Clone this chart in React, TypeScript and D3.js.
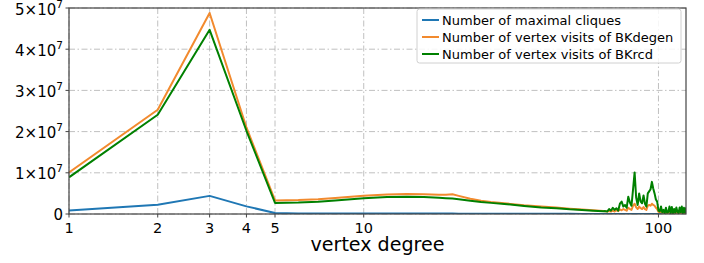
import React from "react";
import * as d3 from "d3";

// vertex degree (x) and the three series, values in units of 1e7
const degrees = [
  1, 2, 3, 4, 5, 6, 7, 8, 10, 12, 14, 16, 18, 19, 20, 21, 23, 25, 27, 30, 35, 40, 45, 50, 55, 60, 65,
  66, 67, 68, 69, 70, 71, 72, 73, 74, 75, 76, 77, 78, 79, 80, 81, 82, 83, 84, 85, 86, 87, 88, 89, 90,
  91, 92, 93, 94, 95, 96, 97, 98, 99, 100, 101, 102, 103, 104, 105, 106, 107, 108, 109, 110, 111, 112,
  113, 114, 115, 116, 117, 118, 119, 120, 121, 122, 123, 124,
];

const maximalCliques = [
  0.087, 0.225, 0.44, 0.185, 0.025, 0.015, 0.014, 0.013, 0.012, 0.011, 0.011, 0.01, 0.01, 0.01, 0.01, 0.009, 0.008, 0.008, 0.007, 0.006, 0.005, 0.005, 0.004, 0.004, 0.003, 0.003, 0.002,
  0.002, 0.002, 0.002, 0.002, 0.002, 0.002, 0.002, 0.002, 0.002, 0.002, 0.002, 0.002, 0.002, 0.002, 0.002, 0.002, 0.002, 0.002, 0.002, 0.002, 0.002, 0.002, 0.002, 0.002, 0.002,
  0.001, 0.001, 0.001, 0.001, 0.001, 0.001, 0.001, 0.001, 0.001, 0.001, 0.001, 0.001, 0.001, 0.001, 0.001, 0.001, 0.001, 0.001, 0.001, 0.001, 0.001, 0.001,
  0.001, 0.001, 0.001, 0.001, 0.001, 0.001, 0.001, 0.001, 0.001, 0.001, 0.001, 0.001,
];

const visitsBKdegen = [
  1.01, 2.53, 4.88, 2.1, 0.33, 0.34, 0.36, 0.39, 0.44, 0.475, 0.485, 0.48, 0.465, 0.47, 0.48, 0.44, 0.37, 0.32, 0.29, 0.26, 0.21, 0.18, 0.155, 0.13, 0.11, 0.09, 0.07,
  0.065, 0.06, 0.07, 0.06, 0.08, 0.06, 0.09, 0.07, 0.11, 0.09, 0.12, 0.1, 0.08, 0.15, 0.12, 0.1, 0.2, 0.25, 0.16, 0.12, 0.18, 0.14, 0.12, 0.17, 0.12,
  0.1, 0.2, 0.22, 0.2, 0.25, 0.22, 0.2, 0.15, 0.12, 0.05, 0.04, 0.06, 0.03, 0.05, 0.02, 0.05, 0.02, 0.03, 0.06, 0.02, 0.05, 0.02,
  0.04, 0.02, 0.05, 0.02, 0.02, 0.05, 0.02, 0.05, 0.02, 0.04, 0.02, 0.04,
];

const visitsBKrcd = [
  0.89, 2.41, 4.47, 2.02, 0.27, 0.28, 0.3, 0.33, 0.38, 0.41, 0.42, 0.415, 0.395, 0.385, 0.375, 0.36, 0.32, 0.29, 0.27, 0.245, 0.195, 0.16, 0.14, 0.115, 0.1, 0.08, 0.065,
  0.07, 0.06, 0.12, 0.08, 0.15, 0.1, 0.14, 0.08, 0.25, 0.3, 0.18, 0.22, 0.15, 0.42, 0.28, 0.2, 0.6, 1.01, 0.4, 0.22, 0.5, 0.3, 0.26, 0.45, 0.25,
  0.18, 0.5, 0.55, 0.6, 0.78, 0.62, 0.5, 0.35, 0.3, 0.08, 0.06, 0.18, 0.04, 0.1, 0.02, 0.15, 0.03, 0.05, 0.18, 0.02, 0.17, 0.02,
  0.12, 0.03, 0.16, 0.05, 0.02, 0.16, 0.04, 0.18, 0.02, 0.15, 0.03, 0.16,
];

const series = [
  { name: "Number of maximal cliques", values: maximalCliques, color: "#1f77b4" },
  { name: "Number of vertex visits of BKdegen", values: visitsBKdegen, color: "#f28a2e" },
  { name: "Number of vertex visits of BKrcd", values: visitsBKrcd, color: "#008000" },
];

const xTicks = [1, 2, 3, 4, 5, 10, 100];
const yTicks = [0, 1, 2, 3, 4, 5];

const W = 704;
const H = 263;
const margin = { top: 8, right: 18, bottom: 49, left: 69 };
const FONT = "DejaVu Sans, sans-serif";

export default function App() {
  const x = d3.scaleLog().domain([1, 124]).range([margin.left, W - margin.right]);
  const y = d3.scaleLinear().domain([0, 5]).range([H - margin.bottom, margin.top]);
  const x0 = margin.left;
  const x1 = W - margin.right;
  const y0 = H - margin.bottom;
  const y1 = margin.top;

  const line = (vals: number[]) =>
    d3
      .line<number>()
      .x((_, i) => x(degrees[i]))
      .y((d) => y(d))(vals) || "";

  const grid = { stroke: "#b0b0b0", strokeWidth: 0.8, strokeDasharray: "6,2.5,1.5,2.5" };

  const legX = 417;
  const legY = 9;

  return (
    <svg
      width={W}
      height={H}
      style={{ position: "absolute", left: 0, top: 0, background: "#fff" }}
      fontFamily={FONT}
    >
      <defs>
        <clipPath id="plotClip">
          <rect x={x0} y={y1} width={x1 - x0} height={y0 - y1} />
        </clipPath>
      </defs>

      {/* grid */}
      {xTicks.map((t) => (
        <line key={"gx" + t} x1={x(t)} x2={x(t)} y1={y0} y2={y1} {...grid} />
      ))}
      {yTicks.map((t) => (
        <line key={"gy" + t} x1={x0} x2={x1} y1={y(t)} y2={y(t)} {...grid} />
      ))}

      {/* series */}
      <g clipPath="url(#plotClip)">
        {series.map((s) => (
          <path key={s.name} d={line(s.values)} fill="none" stroke={s.color} strokeWidth={2} strokeLinejoin="round" />
        ))}
      </g>

      {/* frame */}
      <rect x={x0} y={y1} width={x1 - x0} height={y0 - y1} fill="none" stroke="#444" strokeWidth={1.2} />

      {/* x axis */}
      {xTicks.map((t) => (
        <g key={"xt" + t}>
          <line x1={x(t)} x2={x(t)} y1={y0} y2={y0 + 3.5} stroke="#444" strokeWidth={1} />
          <text x={x(t)} y={y0 + 19} textAnchor="middle" fontSize={14.5} fill="#000">
            {t}
          </text>
        </g>
      ))}
      <text
        x={(x0 + x1) / 2}
        y={251}
        textAnchor="middle"
        fontSize={20}
        fill="#000"
        textLength={134}
        lengthAdjust="spacingAndGlyphs"
      >
        vertex degree
      </text>

      {/* y axis */}
      {yTicks.map((t) => (
        <g key={"yt" + t}>
          <line x1={x0 - 3.5} x2={x0} y1={y(t)} y2={y(t)} stroke="#444" strokeWidth={1} />
          {t === 0 ? (
            <text x={x0 - 6} y={y(t) + 5.5} textAnchor="end" fontSize={15} fill="#000">
              0
            </text>
          ) : (
            <text
              x={x0 - 6}
              y={y(t) + 6.5}
              textAnchor="end"
              fontSize={15}
              fill="#000"
              textLength={48}
              lengthAdjust="spacingAndGlyphs"
            >
              {t}×10
              <tspan fontSize={10.5} dy={-7}>
                7
              </tspan>
            </text>
          )}
        </g>
      ))}

      {/* legend */}
      <rect x={legX} y={legY} width={264} height={54} rx={2.5} fill="#fff" fillOpacity={0.85} stroke="#d0d0d0" strokeWidth={1} />
      {series.map((s, i) => (
        <g key={"lg" + s.name} transform={`translate(${legX},${legY + 11 + i * 17})`}>
          <line x1={5} x2={22} y1={0} y2={0} stroke={s.color} strokeWidth={2} />
          <text x={25} y={4.5} fontSize={13} fill="#000">
            {s.name}
          </text>
        </g>
      ))}
    </svg>
  );
}
